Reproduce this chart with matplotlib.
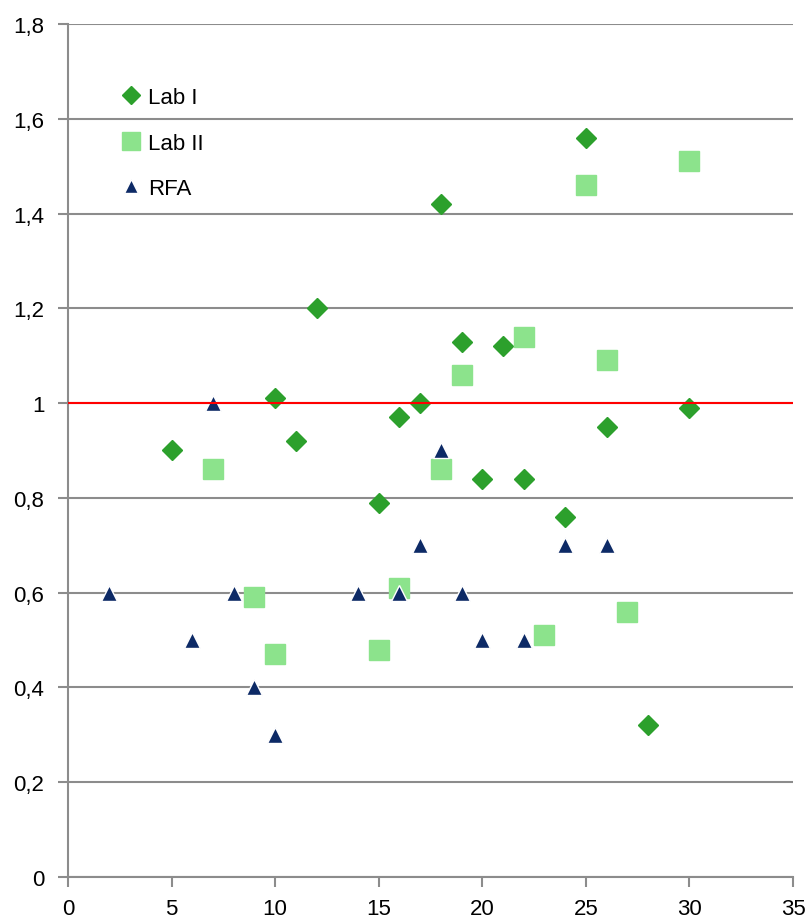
import numpy as np
import matplotlib.pyplot as plt
from matplotlib.ticker import FuncFormatter

plt.rcParams['font.family'] = ['Liberation Sans', 'DejaVu Sans']

# Lab I (diamonds)
lab1_x = [5, 10, 11, 12, 15, 16, 17, 18, 19, 20, 21, 22, 24, 25, 26, 28, 30]
lab1_y = [0.90, 1.01, 0.92, 1.20, 0.79, 0.97, 1.00, 1.42, 1.13, 0.84, 1.12, 0.84, 0.76, 1.56, 0.95, 0.32, 0.99]

# Lab II (squares)
lab2_x = [7, 9, 10, 15, 16, 18, 19, 22, 23, 25, 26, 27, 30]
lab2_y = [0.86, 0.59, 0.47, 0.48, 0.61, 0.86, 1.06, 1.14, 0.51, 1.46, 1.09, 0.56, 1.51]

# RFA (triangles)
rfa_x = [2, 6, 7, 8, 9, 10, 14, 16, 17, 18, 19, 20, 22, 24, 26]
rfa_y = [0.60, 0.50, 1.00, 0.60, 0.40, 0.30, 0.60, 0.60, 0.70, 0.90, 0.60, 0.50, 0.50, 0.70, 0.70]

ref_level = 1.0

fig = plt.figure(figsize=(8.07, 9.20), dpi=100)
ax = fig.add_axes([0.0843, 0.0457, 0.8984, 0.9271])

ax.plot(lab1_x, lab1_y, 'D', ms=10.2, color='#2ca02c', mec='#2ca02c', label='Lab I', zorder=3)
ax.plot(lab2_x, lab2_y, 's', ms=14, color='#8ce38c', mec='#8ce38c', label='Lab II', zorder=3)
ax.plot(rfa_x, rfa_y, '^', ms=11.5, color='#0d2a66', mec='white', mew=1, label='RFA', zorder=4)
ax.axhline(ref_level, color='#ff0000', lw=1.5, zorder=5)

ax.set_xlim(0, 35)
ax.set_ylim(0, 1.8)
ax.set_xticks(np.arange(0, 36, 5))
ax.set_yticks(np.arange(0, 1.81, 0.2))
ax.yaxis.set_major_formatter(FuncFormatter(lambda v, p: ('%g' % round(v, 1)).replace('.', ',')))
ax.grid(axis='y', color='#8c8c8c', lw=1.5, zorder=1)
ax.set_axisbelow(True)

for s in ['top', 'right']:
    ax.spines[s].set_visible(False)
for s in ['left', 'bottom']:
    ax.spines[s].set_color('#8c8c8c')
    ax.spines[s].set_linewidth(1.5)
ax.tick_params(colors='#8c8c8c', labelcolor='black', labelsize=16, width=1.5, length=7)
ax.tick_params(axis='y', pad=10)
ax.tick_params(axis='x', pad=8)

leg = ax.legend(loc='upper left', bbox_to_anchor=(0.068, 0.926), frameon=False, fontsize=16,
                labelspacing=1.1, handlelength=1.2, handletextpad=0.2, borderpad=0,
                borderaxespad=0)
for h, ms in zip(leg.legend_handles, [9, 13, 10]):
    h.set_markersize(ms)

fig.savefig('out.png', dpi=100)
